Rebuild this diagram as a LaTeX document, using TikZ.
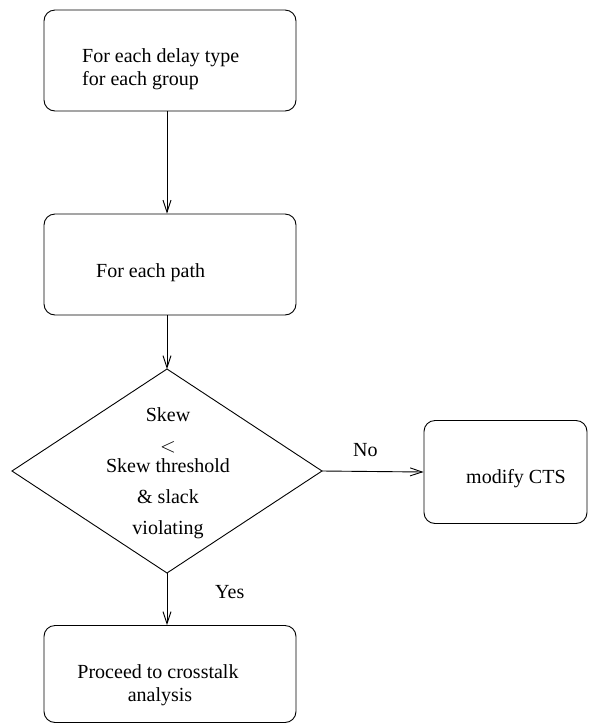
\documentclass[tikz,border=0pt]{standalone}
\usepackage{fontspec}
\setmainfont{Liberation Serif}
\usetikzlibrary{arrows.meta}
\begin{document}
\begin{tikzpicture}[x=1pt,y=-1pt,
  every node/.style={font=\fontsize{20}{23}\selectfont},
  box/.style={draw, line width=0.9pt, rounded corners=11pt, inner sep=0pt,
              minimum width=252pt, minimum height=101pt},
  lbl/.style={inner sep=0pt, anchor=base west},
  flow/.style={line width=0.9pt, -{Straight Barb[length=12pt,width=8pt,line width=0.9pt]}}]
\useasboundingbox (0,0) rectangle (589,724);

% process boxes
\node[box] (b1) at (170,60.5) {};
\node[box] (b2) at (170,264.5) {};
\node[box, minimum width=163pt, minimum height=103pt] (b3) at (505.5,472) {};
\node[box, minimum height=97pt] (b4) at (170,674) {};

% decision diamond
\coordinate (dt) at (167,369);
\coordinate (dr) at (322,471);
\coordinate (db) at (167,573);
\coordinate (dl) at (12,471);
\draw[line width=0.9pt] (dt) -- (dr) -- (db) -- (dl) -- cycle;

% texts
\node[lbl] (t1a) at (82,62) {For each delay type};
\node[lbl] (t1b) at (82,85) {for each group};
\node[lbl] (t2) at (96,277) {For each path};
\node[lbl] (t3) at (466,483) {modify CTS};
\node[inner sep=0pt, anchor=base] (t4a) at (158,678) {Proceed to crosstalk};
\node[inner sep=0pt, anchor=base] (t4b) at (160,701) {analysis};

\node[inner sep=0pt, anchor=base] (d1) at (168,421) {Skew};
\node[inner sep=0pt, anchor=base] (d2) at (168,452) {$<$};
\node[inner sep=0pt, anchor=base] (d3) at (168,472) {Skew threshold};
\node[inner sep=0pt, anchor=base] (d4) at (168,503) {\& slack};
\node[inner sep=0pt, anchor=base] (d5) at (168,534) {violating};

\node[lbl] (no) at (353,456) {No};
\node[lbl] (yes) at (215,598) {Yes};

% connectors
\draw[flow] (b1.south -| dt) -- (b2.north -| dt);
\draw[flow] (b2.south -| dt) -- (dt);
\draw[flow] (dr) -- (b3.west);
\draw[flow] (db) -- (b4.north -| db);
\end{tikzpicture}
\end{document}
